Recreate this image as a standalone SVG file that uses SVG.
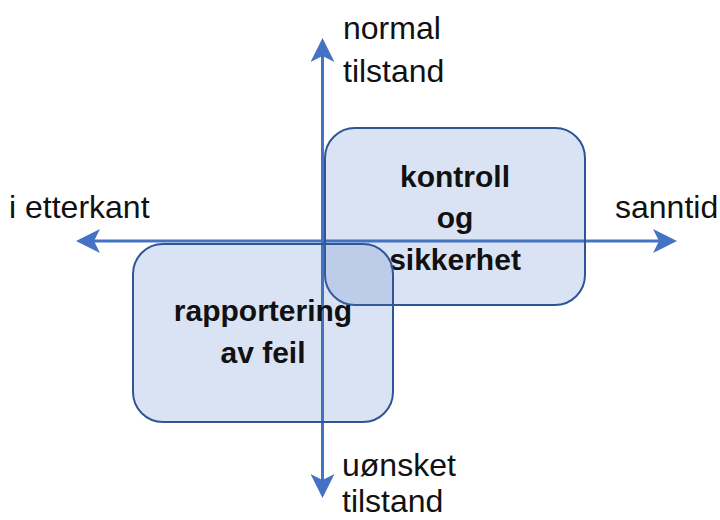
<svg xmlns="http://www.w3.org/2000/svg" width="720" height="520" viewBox="0 0 720 520">
  <style>
    .axis { stroke: #4472C4; stroke-width: 3; fill: none; }
    .box { fill: #4472C4; fill-opacity: 0.2; stroke: #2F5597; stroke-width: 2; }
    .lbl { font-family: "Liberation Sans", Arial, sans-serif; font-size: 32px; fill: #111; }
    .bold { font-family: "Liberation Sans", Arial, sans-serif; font-size: 30px; font-weight: bold; fill: #111; text-anchor: middle; }
  </style>
  <defs>
    <marker id="arrow" viewBox="0 0 24 24" refX="14" refY="12" markerWidth="24" markerHeight="24" markerUnits="userSpaceOnUse" orient="auto">
      <path d="M0,0 L24,12 L0,24 L6,12 Z" fill="#4472C4"/>
    </marker>
  </defs>
  <rect width="720" height="520" fill="#ffffff"/>
  <g id="connectors">
    <line class="axis" x1="322.5" y1="241" x2="322.5" y2="48" marker-end="url(#arrow)"/>
    <line class="axis" x1="322.5" y1="241" x2="322.5" y2="488" marker-end="url(#arrow)"/>
    <line class="axis" x1="322.5" y1="241" x2="667" y2="241" marker-end="url(#arrow)"/>
    <line class="axis" x1="322.5" y1="241" x2="86" y2="241" marker-end="url(#arrow)"/>
  </g>
  <g id="kontroll">
    <rect class="box" x="325" y="128" width="260" height="177" rx="30" ry="30"/>
    <text class="bold" x="455" y="187">kontroll</text>
    <text class="bold" x="455" y="228">og</text>
    <text class="bold" x="455" y="270">sikkerhet</text>
  </g>
  <g id="rapportering">
    <rect class="box" x="133" y="244" width="260" height="178" rx="30" ry="30"/>
    <text class="bold" x="263" y="321">rapportering</text>
    <text class="bold" x="263" y="363">av feil</text>
  </g>
  <g id="label-top">
    <text class="lbl" x="343" y="39">normal</text>
    <text class="lbl" x="343" y="82">tilstand</text>
  </g>
  <g id="label-bottom">
    <text class="lbl" x="342" y="476">uønsket</text>
    <text class="lbl" x="342" y="512">tilstand</text>
  </g>
  <g id="label-left">
    <text class="lbl" x="9" y="218">i etterkant</text>
  </g>
  <g id="label-right">
    <text class="lbl" x="615" y="218">sanntid</text>
  </g>
</svg>
